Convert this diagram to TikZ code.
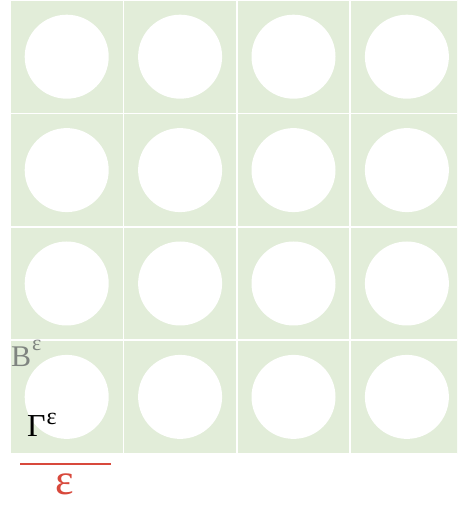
\documentclass[tikz,border=0pt]{standalone}
\usepackage{fontspec}
\setmainfont{Liberation Serif}
\usepackage{xcolor}
\usetikzlibrary{positioning,calc}
\definecolor{cellgreen}{HTML}{E2EDD9}
\definecolor{label}{HTML}{7F8480}
\definecolor{scalered}{HTML}{D8493C}

\begin{document}
\begin{tikzpicture}[x=1pt, y=1pt]
  \def\cw{113.4}
  \def\rr{42}
  \useasboundingbox (0,0) rectangle (457,505);
  \begin{scope}
    \clip (0,0) rectangle (457,505);
    \fill[cellgreen] (10,505) rectangle ++(4*\cw,-4*\cw);
    % holes and cell borders
    \foreach \i in {0,...,3}{
      \foreach \j in {0,...,3}{
        \fill[white] ($(10,505)+(\i*\cw+0.5*\cw,-\j*\cw-0.5*\cw)$) circle (\rr);
        \draw[white, line width=1.6pt] ($(10,505)+(\i*\cw,-\j*\cw)$) rectangle ++(\cw,-\cw);
      }
    }
  \end{scope}

  \node[anchor=base west, inner sep=0pt, font=\fontsize{30}{32}\selectfont\color{label}] (cell) at (11,138) {B\kern1pt\raisebox{16pt}{\fontsize{22}{22}\selectfont ε}};
  \node[anchor=base west, inner sep=0pt, font=\fontsize{32}{34}\selectfont] (hole) at (27,68) {Γ\kern1pt\raisebox{12pt}{\fontsize{24}{24}\selectfont ε}};

  \coordinate (barL) at (20,41);
  \coordinate (barR) at (111,41);
  \draw[scalered, line width=1.3pt] (barL) -- (barR);
  \node[font=\fontsize{44}{46}\selectfont\color{scalered}, inner sep=0pt] (eps) at (65,21) {ε};
\end{tikzpicture}
\end{document}
